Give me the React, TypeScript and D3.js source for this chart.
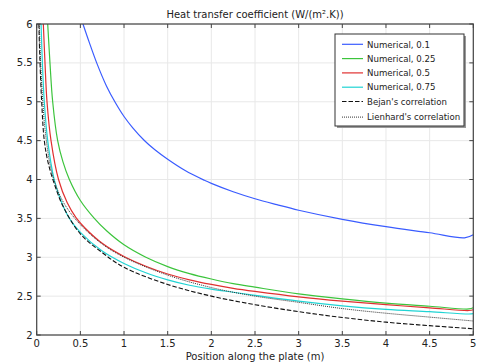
import React from "react";
import * as d3 from "d3";

// [x, h] pairs
const blue01 = [
  [0.53, 6.0], [0.6, 5.77], [0.687, 5.5], [0.8, 5.2], [0.9, 4.99], [1.0, 4.81], [1.1, 4.665],
  [1.23, 4.505], [1.35, 4.385], [1.5, 4.26], [1.7, 4.115], [1.92, 3.99], [2.0, 3.95], [2.25, 3.842],
  [2.5, 3.752], [2.75, 3.676], [3.0, 3.605], [3.5, 3.488], [4.0, 3.393], [4.5, 3.315], [4.9, 3.25], [5.0, 3.29],
];
const green025 = [
  [0.126, 6.0], [0.152, 5.5], [0.183, 5.0], [0.24, 4.5], [0.3, 4.23], [0.374, 4.0], [0.5, 3.73],
  [0.66, 3.5], [0.8, 3.34], [1.0, 3.16], [1.25, 3.0], [1.5, 2.88], [1.75, 2.79], [2.0, 2.72],
  [2.25, 2.66], [2.5, 2.615], [3.0, 2.53], [3.5, 2.465], [4.0, 2.41], [4.5, 2.37], [4.95, 2.335], [5.0, 2.35],
];
const red05 = [
  [0.076, 6.0], [0.095, 5.5], [0.118, 5.0], [0.164, 4.5], [0.25, 4.0], [0.35, 3.7], [0.45, 3.51],
  [0.55, 3.38], [0.75, 3.18], [1.0, 3.01], [1.25, 2.885], [1.5, 2.785], [1.75, 2.71], [2.0, 2.65],
  [2.25, 2.6], [2.5, 2.56], [3.0, 2.49], [3.5, 2.435], [4.0, 2.39], [4.5, 2.35], [4.95, 2.315], [5.0, 2.325],
];
const cyan075 = [
  [0.05, 6.0], [0.065, 5.5], [0.087, 5.0], [0.126, 4.5], [0.2, 4.0], [0.28, 3.72], [0.374, 3.5],
  [0.5, 3.32], [0.75, 3.08], [1.0, 2.92], [1.25, 2.8], [1.5, 2.71], [1.75, 2.64], [2.0, 2.59],
  [2.25, 2.55], [2.5, 2.51], [3.0, 2.435], [3.5, 2.375], [4.0, 2.33], [4.5, 2.3], [4.95, 2.27], [5.0, 2.275],
];
const bejan = [
  [0.025, 6.0], [0.035, 5.6], [0.057, 5.0], [0.087, 4.5], [0.13, 4.22], [0.2, 3.95], [0.3, 3.66],
  [0.5, 3.3], [0.75, 3.06], [1.0, 2.87], [1.5, 2.65], [2.0, 2.5], [2.5, 2.39], [3.0, 2.3],
  [3.5, 2.225], [4.0, 2.165], [4.5, 2.12], [5.0, 2.08],
];
const lienhard = [
  [0.03, 6.0], [0.045, 5.5], [0.07, 5.0], [0.1, 4.6], [0.16, 4.15], [0.22, 3.92], [0.32, 3.68],
  [0.5, 3.42], [0.75, 3.17], [1.0, 3.0], [1.5, 2.77], [2.0, 2.61], [2.5, 2.5], [3.0, 2.42],
  [3.5, 2.34], [4.0, 2.28], [4.5, 2.23], [5.0, 2.18],
];

const seriesNames = [
  "Numerical, 0.1", "Numerical, 0.25", "Numerical, 0.5", "Numerical, 0.75",
  "Bejan's correlation", "Lienhard's correlation",
];
const xTicks = [0, 0.5, 1, 1.5, 2, 2.5, 3, 3.5, 4, 4.5, 5];
const yTicks = [2, 2.5, 3, 3.5, 4, 4.5, 5, 5.5, 6];

const W = 482, H = 364;
const margin = { left: 36.7, right: 8.7, top: 24, bottom: 29 };
const font = "DejaVu Sans, sans-serif";

const styles = [
  { color: "#3a5cff", dash: null, width: 1.2 },
  { color: "#3cc43c", dash: null, width: 1.2 },
  { color: "#e03030", dash: null, width: 1.2 },
  { color: "#20d4d4", dash: null, width: 1.2 },
  { color: "#111", dash: "4.5,2", width: 1.1 },
  { color: "#333", dash: "1,1", width: 1.0 },
];

export default function App() {
  const x = d3.scaleLinear().domain([0, 5]).range([margin.left, W - margin.right]);
  const y = d3.scaleLinear().domain([2, 6]).range([H - margin.bottom, margin.top]);
  const line = d3.line<number[]>().x((d) => x(d[0])).y((d) => y(d[1])).curve(d3.curveCatmullRom.alpha(0.5));
  const data = [blue01, green025, red05, cyan075, bejan, lienhard];
  const [x0, x1] = x.range();
  const [y0, y1] = y.range();

  const lg = { x: 335, y: 34, w: 129, h: 92, row: 14.3 };

  return (
    <div style={{ position: "absolute", left: 0, top: 0 }}>
      <svg width={W} height={H} style={{ display: "block", background: "#fff" }}>
        <defs>
          <clipPath id="plot">
            <rect x={x0} y={y1} width={x1 - x0} height={y0 - y1} />
          </clipPath>
        </defs>
        {/* grid */}
        {xTicks.map((t) => (
          <line key={"gx" + t} x1={x(t)} x2={x(t)} y1={y1} y2={y0} stroke="#e8e8e8" strokeWidth={1} />
        ))}
        {yTicks.map((t) => (
          <line key={"gy" + t} x1={x0} x2={x1} y1={y(t)} y2={y(t)} stroke="#e8e8e8" strokeWidth={1} />
        ))}
        {/* curves */}
        <g clipPath="url(#plot)">
          {data.map((d, i) => (
            <path key={i} d={line(d) || ""} fill="none" stroke={styles[i].color}
              strokeWidth={styles[i].width} strokeDasharray={styles[i].dash || undefined} />
          ))}
        </g>
        {/* frame and inward ticks */}
        <rect x={x0} y={y1} width={x1 - x0} height={y0 - y1} fill="none" stroke="#444" strokeWidth={1.2} />
        {xTicks.map((t) => (
          <g key={"tx" + t}>
            <line x1={x(t)} x2={x(t)} y1={y0} y2={y0 - 4} stroke="#444" />
            <line x1={x(t)} x2={x(t)} y1={y1} y2={y1 + 4} stroke="#444" />
            <text x={x(t)} y={y0 + 12} textAnchor="middle" fontFamily={font} fontSize={10} fill="#222">{t}</text>
          </g>
        ))}
        {yTicks.map((t) => (
          <g key={"ty" + t}>
            <line x1={x0} x2={x0 + 4} y1={y(t)} y2={y(t)} stroke="#444" />
            <line x1={x1} x2={x1 - 4} y1={y(t)} y2={y(t)} stroke="#444" />
            <text x={x0 - 4} y={y(t) + 3.5} textAnchor="end" fontFamily={font} fontSize={10} fill="#222">{t}</text>
          </g>
        ))}
        <text x={255} y={17.5} textAnchor="middle" fontFamily={font} fontSize={10} fill="#222">
          Heat transfer coefficient (W/(m².K))
        </text>
        <text x={255} y={360} textAnchor="middle" fontFamily={font} fontSize={10} fill="#222">
          Position along the plate (m)
        </text>
        {/* legend */}
        <rect x={lg.x + 2} y={lg.y + 2} width={lg.w} height={lg.h} fill="#999" />
        <rect x={lg.x} y={lg.y} width={lg.w} height={lg.h} fill="#fff" stroke="#333" strokeWidth={1} />
        {seriesNames.map((n, i) => {
          const ry = lg.y + 10.3 + i * lg.row + (i === 5 ? 1.3 : 0);
          return (
            <g key={n}>
              <line x1={lg.x + 7} x2={lg.x + 28} y1={ry} y2={ry} stroke={styles[i].color}
                strokeWidth={styles[i].width} strokeDasharray={styles[i].dash || undefined} />
              <text x={lg.x + 32} y={ry + 3.2} fontFamily={font} fontSize={8.6} fill="#222">{n}</text>
            </g>
          );
        })}
      </svg>
    </div>
  );
}
